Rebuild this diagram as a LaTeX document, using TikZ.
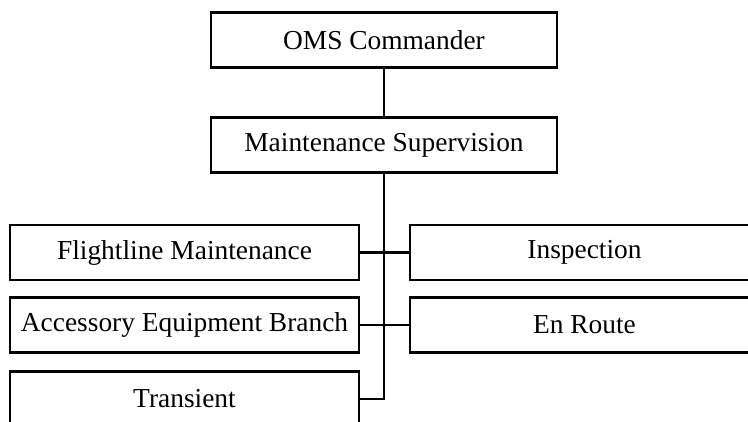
\documentclass[tikz,border=0pt]{standalone}
\usepackage{fontspec}
\setmainfont{Liberation Serif}
\begin{document}
\begin{tikzpicture}[x=0.5pt,y=-0.5pt,
  orgbox/.style={draw=black, line width=1.3pt, fill=white, inner sep=0pt,
    minimum width=174.5pt, minimum height=27.5pt,
    font=\fontsize{13.7}{16}\selectfont},
  link/.style={draw=black, line width=1.3pt}]
\useasboundingbox (0,0) rectangle (748,422);
\clip (0,0) rectangle (748,422);
\node[orgbox, minimum width=173pt] (oms) at (384,40) {OMS Commander};
\node[orgbox, minimum width=173pt] (ms) at (384,145) {Maintenance Supervision};
\node[orgbox] (fl) at (184.5,252.5) {Flightline Maintenance};
\node[orgbox] (ins) at (584.5,252.5) {Inspection};
\node[orgbox] (acc) at (184.5,325) {Accessory Equipment Branch};
\node[orgbox] (enr) at (584.5,325) {En Route};
\node[orgbox] (tr) at (184.5,399) {Transient};
\draw[link] (oms.south) -- (ms.north);
\draw[link] (ms.south) |- (tr.east);
\draw[link] (fl.east) -- (ins.west);
\draw[link] (acc.east) -- (enr.west);
\end{tikzpicture}
\end{document}
